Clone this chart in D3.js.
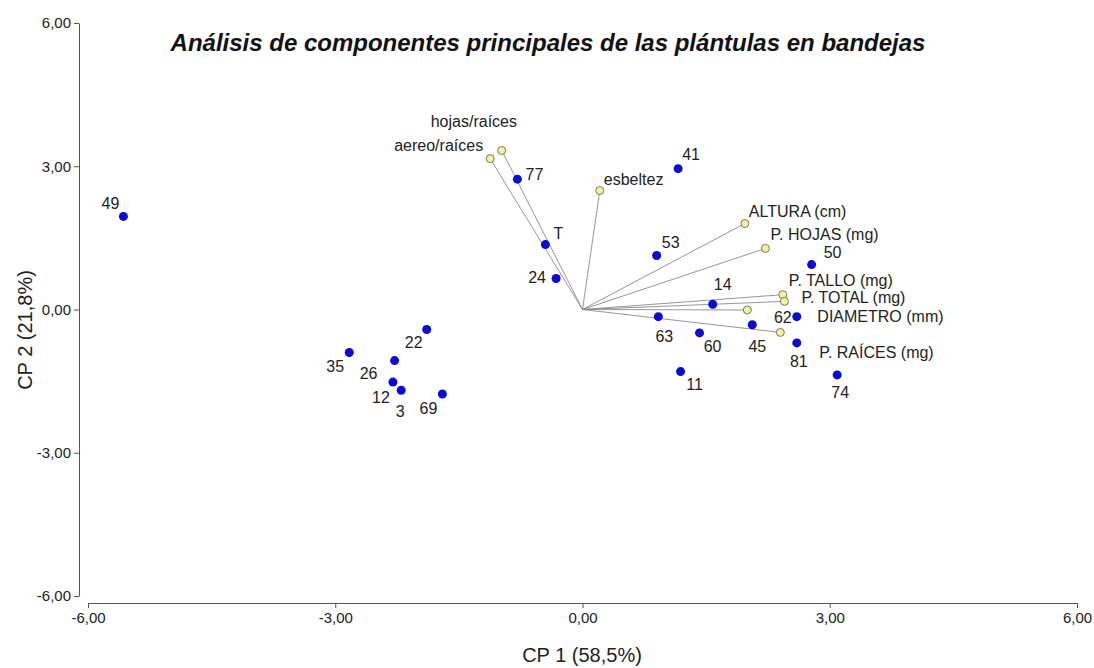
<!DOCTYPE html>
<html>
<head>
<meta charset="utf-8">
<script src="https://cdn.jsdelivr.net/npm/d3@7"></script>
<style>
  body { margin: 0; background: #fff; }
  svg { font-family: "Liberation Sans", Arial, sans-serif; }
</style>
</head>
<body>
<svg id="chart" width="1094" height="668"></svg>
<script>
'use strict'

// observation scores (CP1, CP2)
const obsNames = ['49', '77', 'T', '24', '41', '53', '50', '14', '63', '60', '45', '62', '81', '74', '11', '22', '35', '26', '12', '3', '69']
const obsCP1 = [-5.57, -0.79, -0.45, -0.32, 1.16, 0.90, 2.78, 1.58, 0.92, 1.42, 2.06, 2.60, 2.60, 3.09, 1.19, -1.89, -2.83, -2.28, -2.30, -2.20, -1.70]
const obsCP2 = [1.95, 2.73, 1.36, 0.65, 2.95, 1.13, 0.94, 0.11, -0.15, -0.49, -0.32, -0.15, -0.70, -1.37, -1.30, -0.42, -0.90, -1.07, -1.52, -1.69, -1.77]

// variable loadings (CP1, CP2)
const varNames = ['hojas/raíces', 'aereo/raíces', 'esbeltez', 'ALTURA (cm)', 'P. HOJAS (mg)', 'P. TALLO (mg)', 'P. TOTAL (mg)', 'DIAMETRO (mm)', 'P. RAÍCES (mg)']
const varCP1 = [-0.98, -1.12, 0.21, 1.97, 2.22, 2.43, 2.45, 2.00, 2.40]
const varCP2 = [3.33, 3.16, 2.49, 1.80, 1.28, 0.31, 0.17, -0.01, -0.48]

const tickValues = [-6, -3, 0, 3, 6]

// label placement (pixels from the marker)
const obsLabelOffset = {
  '49': [-13, -13], '77': [17, -5], 'T': [13, -11], '24': [-19, -1], '41': [13, -14],
  '53': [14, -13], '50': [21, -12], '14': [10, -20], '63': [6, 20], '60': [13, 14],
  '45': [5, 22], '62': [-14, 1], '81': [2, 19], '74': [3, 18], '11': [14, 13],
  '22': [-13, 13], '35': [-14, 14], '26': [-26, 13], '12': [-12, 15], '3': [-1, 21], '69': [-14, 14]
}
const varLabelOffset = {
  'hojas/raíces': [-71, -29], 'aereo/raíces': [-96, -13], 'esbeltez': [4, -11],
  'ALTURA (cm)': [4, -12], 'P. HOJAS (mg)': [5, -14], 'P. TALLO (mg)': [6, -14],
  'P. TOTAL (mg)': [17, -4], 'DIAMETRO (mm)': [70, 7], 'P. RAÍCES (mg)': [39, 20]
}

const svg = d3.select('#chart')

const x = d3.scaleLinear().domain([-6, 6]).range([88, 1077])
const y = d3.scaleLinear().domain([-6, 6]).range([596, 23])
const fmt = v => d3.format('.2f')(v).replace('.', ',').replace('−', '-')

// x axis
const xAxis = svg.append('g')
  .attr('transform', 'translate(0,603)')
  .call(d3.axisBottom(x).tickValues(tickValues).tickSize(5).tickSizeOuter(0).tickPadding(4).tickFormat(fmt))
xAxis.select('.domain').attr('stroke', '#555')
xAxis.selectAll('.tick line').attr('stroke', '#555')
xAxis.selectAll('.tick text').attr('font-size', 15).attr('fill', '#222').attr('font-family', null)

// y axis
const yAxis = svg.append('g')
  .attr('transform', 'translate(79,0)')
  .call(d3.axisLeft(y).tickValues(tickValues).tickSize(5).tickSizeOuter(0).tickPadding(3).tickFormat(fmt))
yAxis.select('.domain').attr('stroke', '#555')
yAxis.selectAll('.tick line').attr('stroke', '#555')
yAxis.selectAll('.tick text').attr('font-size', 15).attr('fill', '#222').attr('font-family', null)

// titles
svg.append('text')
  .attr('x', 548).attr('y', 51)
  .attr('text-anchor', 'middle')
  .attr('font-size', 24).attr('font-weight', 'bold').attr('font-style', 'italic')
  .attr('fill', '#111')
  .text('Análisis de componentes principales de las plántulas en bandejas')

svg.append('text')
  .attr('x', 582).attr('y', 662)
  .attr('text-anchor', 'middle')
  .attr('font-size', 20).attr('fill', '#222')
  .text('CP 1 (58,5%)')

svg.append('text')
  .attr('transform', 'translate(32,330) rotate(-90)')
  .attr('text-anchor', 'middle')
  .attr('font-size', 20).attr('fill', '#222')
  .text('CP 2 (21,8%)')

// variable vectors
const vars = varNames.map((n, i) => ({ name: n, cx: varCP1[i], cy: varCP2[i] }))
const obs = obsNames.map((n, i) => ({ name: n, cx: obsCP1[i], cy: obsCP2[i] }))

svg.append('g').selectAll('line')
  .data(vars)
  .join('line')
  .attr('x1', x(0)).attr('y1', y(0))
  .attr('x2', d => x(d.cx)).attr('y2', d => y(d.cy))
  .attr('stroke', '#8a8a8a').attr('stroke-width', 0.9)

// observation points
svg.append('g').selectAll('circle')
  .data(obs)
  .join('circle')
  .attr('cx', d => x(d.cx)).attr('cy', d => y(d.cy))
  .attr('r', 4.5)
  .attr('fill', '#0a0ad0')

svg.append('g').selectAll('text')
  .data(obs)
  .join('text')
  .attr('x', d => x(d.cx) + obsLabelOffset[d.name][0])
  .attr('y', d => y(d.cy) + obsLabelOffset[d.name][1])
  .attr('text-anchor', 'middle')
  .attr('dominant-baseline', 'central')
  .attr('font-size', 16).attr('fill', '#222')
  .text(d => d.name)

// variable end points
svg.append('g').selectAll('circle')
  .data(vars)
  .join('circle')
  .attr('cx', d => x(d.cx)).attr('cy', d => y(d.cy))
  .attr('r', 4)
  .attr('fill', '#f7f29a').attr('stroke', '#666').attr('stroke-width', 0.9)

svg.append('g').selectAll('text')
  .data(vars)
  .join('text')
  .attr('x', d => x(d.cx) + varLabelOffset[d.name][0])
  .attr('y', d => y(d.cy) + varLabelOffset[d.name][1])
  .attr('text-anchor', 'start')
  .attr('dominant-baseline', 'central')
  .attr('font-size', 16).attr('fill', '#222')
  .text(d => d.name)
</script>
</body>
</html>
